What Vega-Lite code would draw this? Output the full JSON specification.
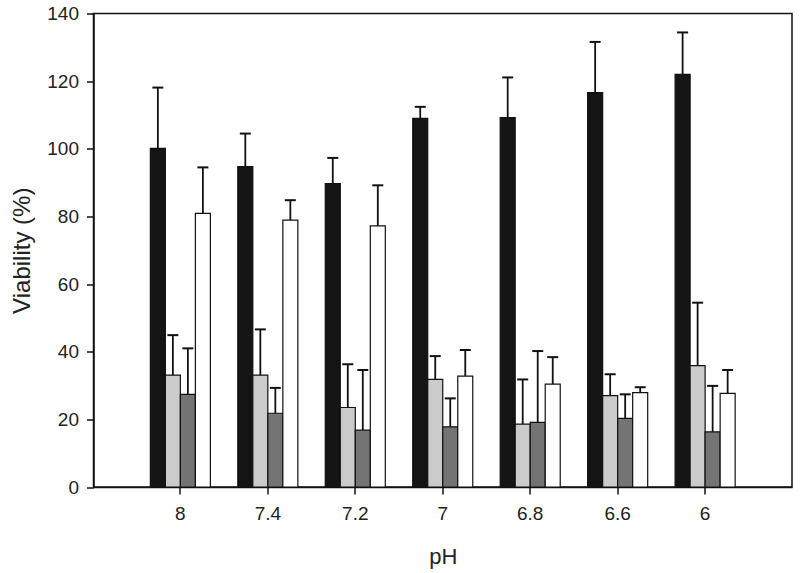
{
  "$schema": "https://vega.github.io/schema/vega-lite/v6.json",
  "autosize": "none",
  "padding": {"left": 93.5, "top": 13.5, "right": 8, "bottom": 86},
  "width": 698.5,
  "height": 473.5,
  "background": "white",
  "config": {
    "view": {"stroke": "#111", "strokeWidth": 1.5},
    "font": "Liberation Sans",
    "axis": {"domainColor": "#111", "domainWidth": 1.5, "tickColor": "#111", "tickWidth": 1.5, "tickSize": 7, "labelColor": "#222", "titleColor": "#222", "labelFont": "Liberation Sans", "titleFont": "Liberation Sans", "titleFontWeight": "normal", "grid": false}
  },
  "data": {
    "values": [
      {"ph": "8", "series": "A", "value": 100.1, "upper": 118.1},
      {"ph": "8", "series": "B", "value": 33.1, "upper": 44.9},
      {"ph": "8", "series": "C", "value": 27.4, "upper": 41.0},
      {"ph": "8", "series": "D", "value": 80.9, "upper": 94.5},
      {"ph": "7.4", "series": "A", "value": 94.7, "upper": 104.5},
      {"ph": "7.4", "series": "B", "value": 33.1, "upper": 46.6},
      {"ph": "7.4", "series": "C", "value": 21.8, "upper": 29.3},
      {"ph": "7.4", "series": "D", "value": 78.9, "upper": 84.8},
      {"ph": "7.2", "series": "A", "value": 89.7, "upper": 97.3},
      {"ph": "7.2", "series": "B", "value": 23.5, "upper": 36.3},
      {"ph": "7.2", "series": "C", "value": 16.8, "upper": 34.6},
      {"ph": "7.2", "series": "D", "value": 77.2, "upper": 89.2},
      {"ph": "7", "series": "A", "value": 109.0, "upper": 112.4},
      {"ph": "7", "series": "B", "value": 31.8, "upper": 38.7},
      {"ph": "7", "series": "C", "value": 17.8, "upper": 26.2},
      {"ph": "7", "series": "D", "value": 32.8, "upper": 40.5},
      {"ph": "6.8", "series": "A", "value": 109.2, "upper": 121.1},
      {"ph": "6.8", "series": "B", "value": 18.6, "upper": 31.8},
      {"ph": "6.8", "series": "C", "value": 19.1, "upper": 40.2},
      {"ph": "6.8", "series": "D", "value": 30.4, "upper": 38.4},
      {"ph": "6.6", "series": "A", "value": 116.6, "upper": 131.6},
      {"ph": "6.6", "series": "B", "value": 27.0, "upper": 33.3},
      {"ph": "6.6", "series": "C", "value": 20.3, "upper": 27.4},
      {"ph": "6.6", "series": "D", "value": 27.9, "upper": 29.5},
      {"ph": "6", "series": "A", "value": 122.0, "upper": 134.4},
      {"ph": "6", "series": "B", "value": 35.9, "upper": 54.5},
      {"ph": "6", "series": "C", "value": 16.3, "upper": 29.9},
      {"ph": "6", "series": "D", "value": 27.7, "upper": 34.6}
    ]
  },
  "encoding": {
    "x": {
      "field": "ph", "type": "nominal",
      "sort": ["8", "7.4", "7.2", "7", "6.8", "6.6", "6"],
      "scale": {"paddingInner": 0.3135, "paddingOuter": 0.65},
      "axis": {"title": "pH", "labelAngle": 0, "labelFontSize": 19, "labelPadding": 10, "titleFontSize": 22, "titleX": 349.25, "titleY": 69, "titleBaseline": "middle", "titleAlign": "center"}
    },
    "xOffset": {"field": "series", "type": "nominal", "sort": ["A", "B", "C", "D"], "scale": {"paddingInner": 0, "paddingOuter": 0}}
  },
  "layer": [
    {
      "mark": {"type": "rule", "color": "#111", "strokeWidth": 1.8},
      "encoding": {
        "y": {"field": "value", "type": "quantitative"},
        "y2": {"field": "upper"}
      }
    },
    {
      "mark": {"type": "tick", "orient": "horizontal", "color": "#111", "size": 11, "thickness": 2, "opacity": 1},
      "encoding": {
        "y": {"field": "upper", "type": "quantitative"}
      }
    },
    {
      "mark": {"type": "bar", "stroke": "#111", "strokeWidth": 1.2, "opacity": 1},
      "encoding": {
        "y": {
          "field": "value", "type": "quantitative",
          "scale": {"domain": [0, 140], "nice": false},
          "axis": {"title": "Viability (%)", "values": [0, 20, 40, 60, 80, 100, 120, 140], "labelFontSize": 19, "labelPadding": 8, "titleFontSize": 24, "titleX": -71, "titleY": 236.75, "titleBaseline": "middle", "titleAlign": "center", "titleAngle": -90}
        },
        "color": {
          "field": "series", "type": "nominal",
          "scale": {"domain": ["A", "B", "C", "D"], "range": ["#141414", "#cbcbcb", "#747474", "#ffffff"]},
          "legend": null
        }
      }
    }
  ]
}
